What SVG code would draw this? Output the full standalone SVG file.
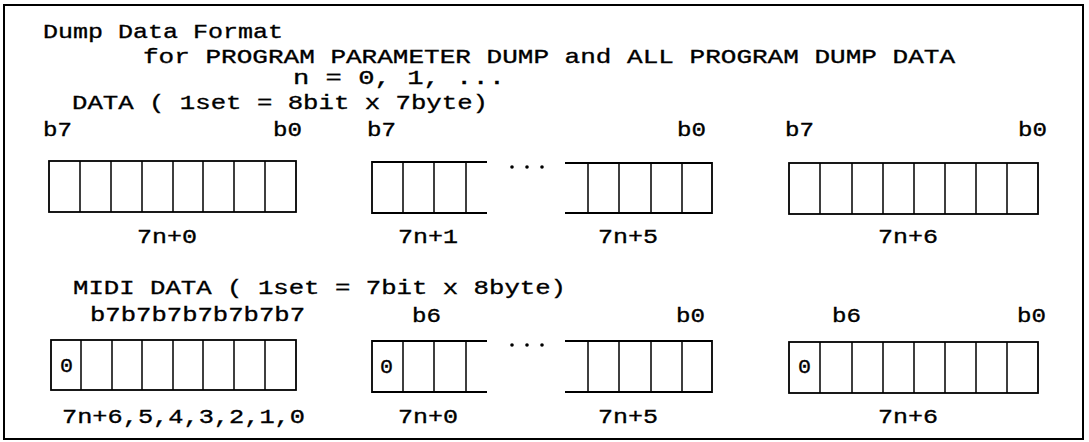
<svg xmlns="http://www.w3.org/2000/svg" width="1089" height="442" viewBox="0 0 1089 442">
<style>
text{font-family:"Liberation Mono","DejaVu Sans Mono",monospace;font-size:21px;fill:#000;stroke:#000;stroke-width:0.35}
.b{fill:none;stroke:#000;stroke-width:1.8}
.c{fill:none;stroke:#000;stroke-width:1.5}
.d{fill:#000}
</style>
<rect x="0" y="0" width="1089" height="442" fill="#fff"/>
<rect id="frame" x="4" y="5" width="1079" height="434" fill="none" stroke="#000" stroke-width="2"/>
<g id="titles">
<text x="43" y="38" textLength="240" lengthAdjust="spacingAndGlyphs">Dump Data Format</text>
<text x="143" y="63" textLength="812" lengthAdjust="spacingAndGlyphs">for PROGRAM PARAMETER DUMP and ALL PROGRAM DUMP DATA</text>
<text x="293" y="84" textLength="212" lengthAdjust="spacingAndGlyphs">n = 0, 1, ...</text>
<text x="72" y="109" textLength="416" lengthAdjust="spacingAndGlyphs">DATA ( 1set = 8bit x 7byte)</text>
<text x="73" y="294" textLength="493" lengthAdjust="spacingAndGlyphs">MIDI DATA ( 1set = 7bit x 8byte)</text>
</g>
<g id="data-byte0">
<text x="43" y="136" textLength="29" lengthAdjust="spacingAndGlyphs">b7</text>
<text x="273" y="136" textLength="29" lengthAdjust="spacingAndGlyphs">b0</text>
<rect class="b" x="49" y="161" width="247" height="51"/>
<path class="c" d="M80 161V212M111 161V212M142 161V212M173 161V212M203 161V212M234 161V212M265 161V212"/>
<text x="137" y="243" textLength="60" lengthAdjust="spacingAndGlyphs">7n+0</text>
</g>
<g id="data-byte1">
<text x="367" y="136" textLength="29" lengthAdjust="spacingAndGlyphs">b7</text>
<path class="b" d="M487 162H372V213H487"/>
<path class="c" d="M403 162V213M434 162V213M466 162V213"/>
<text x="398" y="243" textLength="60" lengthAdjust="spacingAndGlyphs">7n+1</text>
</g>
<g id="data-dots">
<circle class="d" cx="512" cy="167" r="1.8"/><circle class="d" cx="527" cy="167" r="1.8"/><circle class="d" cx="542" cy="167" r="1.8"/>
</g>
<g id="data-byte5">
<text x="677" y="136" textLength="29" lengthAdjust="spacingAndGlyphs">b0</text>
<path class="b" d="M565 163H712V213H565"/>
<path class="c" d="M588 163V213M619 163V213M651 163V213M682 163V213"/>
<text x="598" y="243" textLength="60" lengthAdjust="spacingAndGlyphs">7n+5</text>
</g>
<g id="data-byte6">
<text x="785" y="136" textLength="29" lengthAdjust="spacingAndGlyphs">b7</text>
<text x="1018" y="136" textLength="29" lengthAdjust="spacingAndGlyphs">b0</text>
<rect class="b" x="789" y="163" width="249" height="51"/>
<path class="c" d="M820 163V214M852 163V214M883 163V214M914 163V214M945 163V214M976 163V214M1007 163V214"/>
<text x="878" y="243" textLength="60" lengthAdjust="spacingAndGlyphs">7n+6</text>
</g>
<g id="midi-msb">
<text x="90" y="321" textLength="215" lengthAdjust="spacingAndGlyphs">b7b7b7b7b7b7b7</text>
<rect class="b" x="51" y="340" width="245" height="50"/>
<path class="c" d="M81 340V390M112 340V390M142 340V390M173 340V390M203 340V390M234 340V390M265 340V390"/>
<text x="60" y="372" textLength="13" lengthAdjust="spacingAndGlyphs">0</text>
<text x="62" y="423" textLength="243" lengthAdjust="spacingAndGlyphs">7n+6,5,4,3,2,1,0</text>
</g>
<g id="midi-byte0">
<text x="412" y="322" textLength="29" lengthAdjust="spacingAndGlyphs">b6</text>
<path class="b" d="M487 341H372V392H487"/>
<path class="c" d="M403 341V392M434 341V392M466 341V392"/>
<text x="380" y="373" textLength="13" lengthAdjust="spacingAndGlyphs">0</text>
<text x="398" y="423" textLength="60" lengthAdjust="spacingAndGlyphs">7n+0</text>
</g>
<g id="midi-dots">
<circle class="d" cx="512" cy="345" r="1.8"/><circle class="d" cx="527" cy="345" r="1.8"/><circle class="d" cx="542" cy="345" r="1.8"/>
</g>
<g id="midi-byte5">
<text x="676" y="322" textLength="29" lengthAdjust="spacingAndGlyphs">b0</text>
<path class="b" d="M565 341H712V392H565"/>
<path class="c" d="M588 341V392M619 341V392M651 341V392M682 341V392"/>
<text x="598" y="423" textLength="60" lengthAdjust="spacingAndGlyphs">7n+5</text>
</g>
<g id="midi-byte6">
<text x="832" y="322" textLength="29" lengthAdjust="spacingAndGlyphs">b6</text>
<text x="1017" y="322" textLength="29" lengthAdjust="spacingAndGlyphs">b0</text>
<rect class="b" x="789" y="342" width="249" height="51"/>
<path class="c" d="M820 342V393M852 342V393M883 342V393M914 342V393M945 342V393M976 342V393M1007 342V393"/>
<text x="798" y="373" textLength="13" lengthAdjust="spacingAndGlyphs">0</text>
<text x="878" y="423" textLength="60" lengthAdjust="spacingAndGlyphs">7n+6</text>
</g>
<g id="connectors"/>
</svg>
